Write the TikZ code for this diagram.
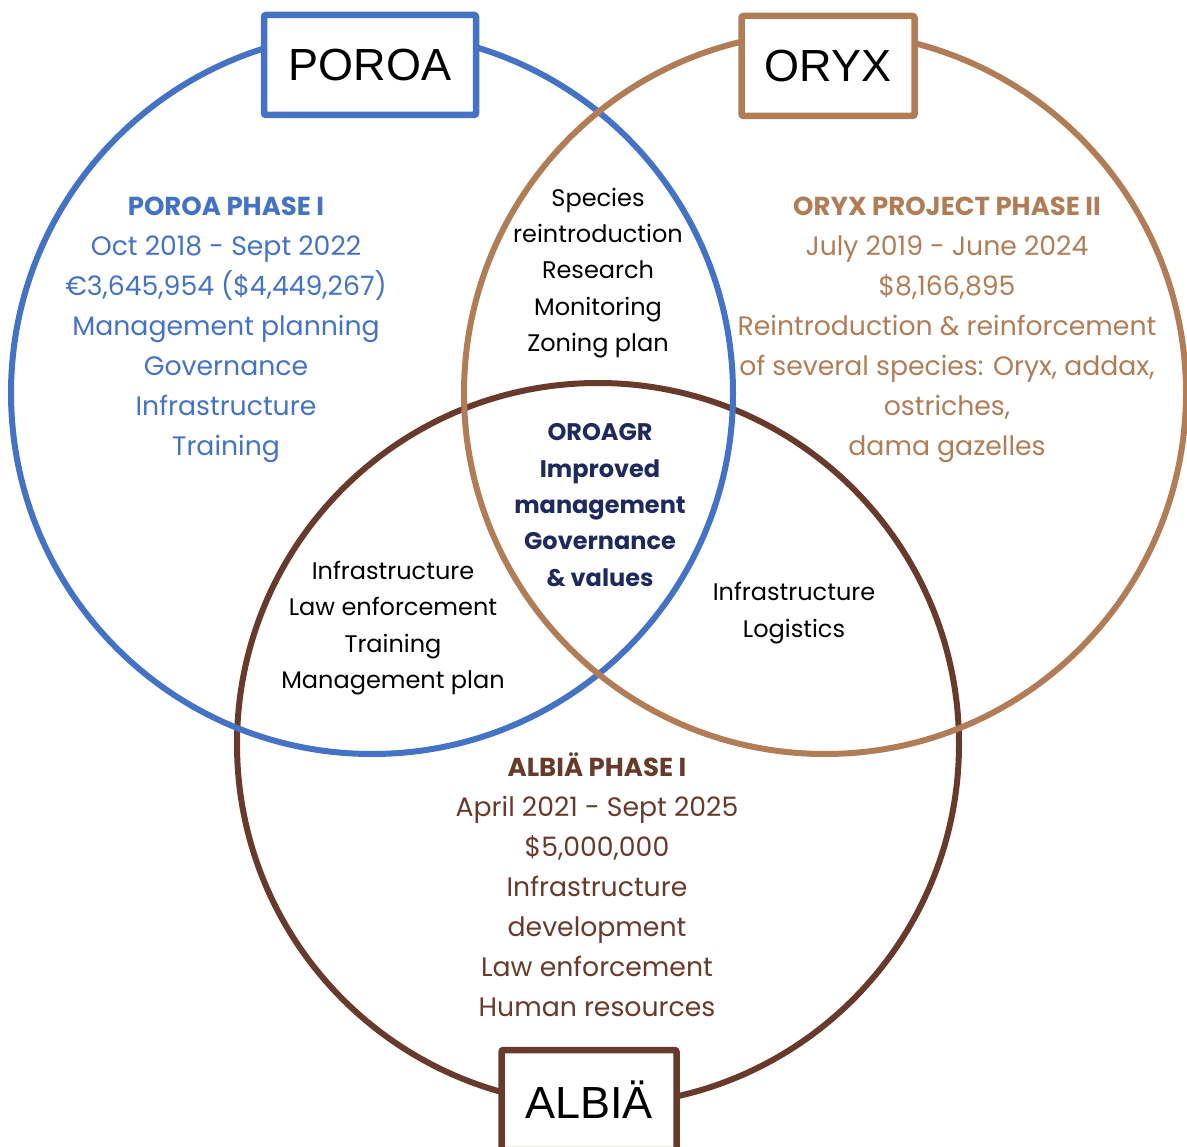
\documentclass[tikz,border=0pt]{standalone}
\usepackage{fontspec}
\setmainfont{Poppins}
\newfontfamily\labelfont{Liberation Sans}
\definecolor{poroacol}{HTML}{4472C4}
\definecolor{oryxcol}{HTML}{B07D57}
\definecolor{albiacol}{HTML}{673A2B}
\definecolor{corecol}{HTML}{1F2A5C}
\tikzset{
	ring/.style = {circle, line width=6pt, minimum size=722pt, inner sep=0pt},
	namebox/.style = {draw, fill=white, line width=6.5pt, rounded corners=2pt,
		minimum width=#1, minimum height=100pt, inner sep=0pt,
		font=\labelfont\fontsize{45}{50}\selectfont, text=black},
	block/.style = {align=center, inner sep=0pt,
		font=\fontsize{26.7}{40}\selectfont},% texte des cercles
	overlap/.style = {align=center, inner sep=0pt,
		font=\fontsize{24}{36.3}\selectfont, text=black}% texte des zones communes
}
\newcommand{\phasetitle}[1]{{\bfseries\fontsize{26}{40}\selectfont #1}}

\begin{document}
\begin{tikzpicture}[x=1pt,y=-1pt]
	\useasboundingbox (0,0) rectangle (1187,1147);
	% cercles
	\node [ring, draw=albiacol] (albia) at (598,744) {};
	\node [ring, draw=poroacol] (poroa) at (372,393) {};
	\node [ring, draw=oryxcol] (oryx) at (825,393) {};
	% etiquettes
	\node [namebox=212pt, draw=poroacol] (poroabox) at (370,65) {POROA};
	\node [namebox=173pt, draw=oryxcol] (oryxbox) at (828,66) {ORYX};
	\node [namebox=175pt, draw=albiacol] (albiabox) at (589,1100) {ALBIÄ};
	% textes
	\node [block, text=poroacol] (poroatext) at (226,330) {\phasetitle{POROA PHASE I}\\
		Oct 2018 - Sept 2022\\ €3,645,954 (\$4,449,267)\\ Management planning\\
		Governance\\ Infrastructure\\ Training};
	\node [block, text=oryxcol] (oryxtext) at (947,330) {\phasetitle{ORYX PROJECT PHASE II}\\
		July 2019 - June 2024\\ \$8,166,895\\ Reintroduction \& reinforcement\\
		of several species: Oryx, addax,\\ ostriches,\\ dama gazelles};
	\node [block, text=albiacol] (albiatext) at (597,885) {\phasetitle{ALBIÄ PHASE I}\\
		April 2021 - Sept 2025\\ \$5,000,000\\ Infrastructure\\ development\\
		Law enforcement\\ Human resources};
	\node [overlap] (po) at (598,273) {Species\\ reintroduction\\ Research\\
		Monitoring\\ Zoning plan};
	\node [overlap] (pa) at (393,628) {Infrastructure\\ Law enforcement\\
		Training\\ Management plan};
	\node [overlap] (oa) at (794,613) {Infrastructure\\ Logistics};
	\node [overlap, text=corecol, font=\bfseries\fontsize{24}{36.3}\selectfont] (core)
		at (600,505) {OROAGR\\ Improved\\ management\\ Governance\\ \& values};
\end{tikzpicture}
\end{document}
